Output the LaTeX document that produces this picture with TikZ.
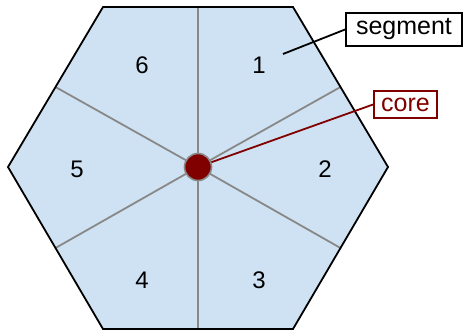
\documentclass[tikz,border=0pt]{standalone}
\usepackage{fontspec}
\setmainfont{Liberation Sans}
\usepackage{tikz}
\usetikzlibrary{positioning, calc}

\definecolor{hexfill}{HTML}{CFE2F3}
\definecolor{corered}{HTML}{800000}
\definecolor{spoke}{HTML}{888888}

\begin{document}
\begin{tikzpicture}[
  x=1pt, y=-1pt,
  num/.style   = {font=\fontsize{24}{28}\selectfont},
  tag/.style   = {draw, line width=1.8pt, inner sep=3pt, minimum height=33pt,
                  font=\fontsize{25}{30}\selectfont},
  spokeline/.style = {draw=spoke, line width=1.8pt}
]
  \useasboundingbox (0,0) rectangle (465,331);

  % hexagon corners
  \coordinate (W)  at (8,167);
  \coordinate (NW) at (103,7);
  \coordinate (NE) at (293,7);
  \coordinate (E)  at (388,167);
  \coordinate (SE) at (293,329);
  \coordinate (SW) at (103,329);
  \coordinate (O)  at (198,167);

  \fill[hexfill] (W) -- (NW) -- (NE) -- (E) -- (SE) -- (SW) -- cycle;

  % spokes to the edge midpoints
  \foreach \a/\b in {NW/NE, NE/E, E/SE, SE/SW, SW/W, W/NW}
    \draw[spokeline] (O) -- ($(\a)!0.5!(\b)$);

  \draw[line width=1.8pt, line join=miter]
    (W) -- (NW) -- (NE) -- (E) -- (SE) -- (SW) -- cycle;

  \node[num] (s1) at (259,65)  {1};
  \node[num] (s2) at (325,169) {2};
  \node[num] (s3) at (259,280) {3};
  \node[num] (s4) at (142,280) {4};
  \node[num] (s5) at (77,169)  {5};
  \node[num] (s6) at (142,65)  {6};

  \node[circle, fill=corered, draw=spoke, line width=1.6pt,
        minimum size=27pt, inner sep=0pt] (core) at (O) {};

  \node[tag, fill=white, minimum width=116pt] (seg) at (404,29.5) {segment};
  \coordinate (segend) at (283,54);
  \draw[line width=1.8pt] (seg.west) -- (segend);

  \node[tag, draw=corered, text=corered, fill=white, minimum height=27pt,
        minimum width=63pt] (coretag) at (405.5,104.5) {core};
  \draw[corered, line width=1.8pt] (coretag.west) -- (core);
\end{tikzpicture}
\end{document}
